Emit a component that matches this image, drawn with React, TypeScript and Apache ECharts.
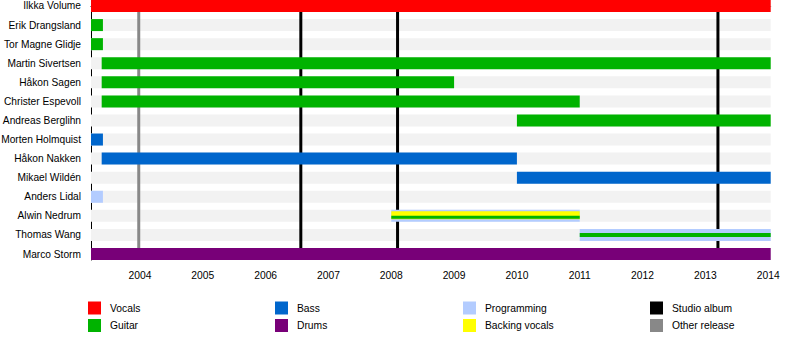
import React, { useEffect, useRef } from "react";
import * as echarts from "echarts";

const START = 2003.22;
const END = 2014.04;

const members = [
  "Ilkka Volume",
  "Erik Drangsland",
  "Tor Magne Glidje",
  "Martin Sivertsen",
  "Håkon Sagen",
  "Christer Espevoll",
  "Andreas Berglihn",
  "Morten Holmquist",
  "Håkon Nakken",
  "Mikael Wildén",
  "Anders Lidal",
  "Alwin Nedrum",
  "Thomas Wang",
  "Marco Storm",
];

const years = [2004, 2005, 2006, 2007, 2008, 2009, 2010, 2011, 2012, 2013, 2014];

// [member, start, end, layer]  (layer 0 = main bar, 1 = inner, 2 = core, 3 = centre stripe)
const vocals: [string, number, number, number][] = [["Ilkka Volume", START, END, 0]];
const guitar: [string, number, number, number][] = [
  ["Erik Drangsland", START, 2003.41, 0],
  ["Tor Magne Glidje", START, 2003.41, 0],
  ["Martin Sivertsen", 2003.39, END, 0],
  ["Håkon Sagen", 2003.39, 2009.0, 0],
  ["Christer Espevoll", 2003.39, 2011.0, 0],
  ["Andreas Berglihn", 2010.0, END, 0],
  ["Alwin Nedrum", 2008.0, 2011.0, 2],
  ["Thomas Wang", 2011.0, END, 3],
];
const bass: [string, number, number, number][] = [
  ["Morten Holmquist", START, 2003.41, 0],
  ["Håkon Nakken", 2003.39, 2010.0, 0],
  ["Mikael Wildén", 2010.0, END, 0],
];
const drums: [string, number, number, number][] = [["Marco Storm", START, END, 0]];
const programming: [string, number, number, number][] = [
  ["Anders Lidal", START, 2003.41, 0],
  ["Alwin Nedrum", 2008.0, 2011.0, 0],
  ["Thomas Wang", 2011.0, END, 0],
];
const backingVocals: [string, number, number, number][] = [["Alwin Nedrum", 2008.0, 2011.0, 1]];

const studioAlbums = [2006.56, 2008.1, 2013.2];
const otherReleases = [2003.98];

const Y_MIN = -0.3145;
const Y_MAX = 13.3145;
const LAYERS = [
  { h: 12, dy: 0 },
  { h: 8, dy: -0.5 },
  { h: 3, dy: 1.5 },
  { h: 4, dy: 0 },
];
const FONT = "'Liberation Sans', Arial, sans-serif";

function barSeries(name: string, color: string, entries: [string, number, number, number][]) {
  return {
    type: "custom",
    name,
    itemStyle: { color },
    z: 3,
    encode: { x: [0, 1], y: 2 },
    data: entries.map(([m, s, e, l]) => [s, e, members.indexOf(m), l]),
    renderItem: (params: any, api: any) => {
      const row = api.value(2);
      const a = api.coord([api.value(0), row]);
      const b = api.coord([api.value(1), row]);
      const L = LAYERS[api.value(3)];
      return {
        type: "rect",
        shape: { x: a[0], y: a[1] - L.h / 2 + L.dy, width: b[0] - a[0], height: L.h },
        style: { fill: color },
        z2: 10 + api.value(3) * 10,
      };
    },
  };
}

function lineSeries(name: string, color: string, values: number[]) {
  return {
    type: "custom",
    name,
    itemStyle: { color },
    z: 2,
    encode: { x: 0, y: 1 },
    data: values.map((v) => [v, 0]),
    renderItem: (params: any, api: any) => {
      const t = api.coord([api.value(0), Y_MIN]);
      const b = api.coord([api.value(0), Y_MAX]);
      return {
        type: "line",
        shape: { x1: t[0], y1: t[1], x2: b[0], y2: b[1] },
        style: { stroke: color, lineWidth: 3 },
      };
    },
  };
}

export default function App() {
  const ref = useRef<HTMLDivElement>(null);
  useEffect(() => {
    if (!ref.current) return;
    const chart = echarts.init(ref.current, null, { renderer: "svg" });
    const legendBase = {
      orient: "vertical",
      top: 301.5,
      itemWidth: 13,
      itemHeight: 13,
      itemGap: 4.5,
      padding: 0,
      icon: "rect",
      selectedMode: false,
      textStyle: { fontSize: 10.3, color: "#000", fontFamily: FONT, padding: [0, 0, 0, 4] },
    };
    chart.setOption({
      animation: false,
      grid: {
        left: 91,
        right: 29.3,
        top: 0,
        bottom: 100,
        containLabel: false,
        outerBoundsMode: "none",
      },
      xAxis: {
        type: "value",
        min: START,
        max: END,
        splitLine: { show: false },
        axisLine: { lineStyle: { color: "#000", width: 1 } },
        axisTick: { customValues: years, length: 5, lineStyle: { color: "#000" } },
        axisLabel: {
          customValues: years,
          fontSize: 10.3,
          color: "#000",
          fontFamily: FONT,
          margin: 10,
          formatter: (v: number) => String(Math.round(v)),
        },
      },
      yAxis: {
        type: "value",
        inverse: true,
        min: Y_MIN,
        max: Y_MAX,
        splitLine: { show: false },
        axisLine: { show: true, lineStyle: { color: "#000", width: 1 } },
        axisTick: { show: false },
        axisLabel: {
          customValues: members.map((_, i) => i),
          formatter: (v: number) => members[Math.round(v)] ?? "",
          fontSize: 10.2,
          color: "#000",
          fontFamily: FONT,
          margin: 10,
        },
      },
      legend: [
        { ...legendBase, left: 88, data: ["Vocals", "Guitar"] },
        { ...legendBase, left: 275, data: ["Bass", "Drums"] },
        { ...legendBase, left: 463, data: ["Programming", "Backing vocals"] },
        { ...legendBase, left: 650, data: ["Studio album", "Other release"] },
      ],
      series: [
        {
          type: "custom",
          name: "stripes",
          z: 1,
          encode: { x: [0, 1], y: 2 },
          data: members.map((_, i) => [START, END, i]),
          renderItem: (params: any, api: any) => {
            const a = api.coord([api.value(0), api.value(2)]);
            const b = api.coord([api.value(1), api.value(2)]);
            return {
              type: "rect",
              shape: { x: a[0], y: a[1] - 6, width: b[0] - a[0], height: 12 },
              style: { fill: "#f2f2f2" },
            };
          },
        },
        barSeries("Vocals", "#ff0000", vocals),
        barSeries("Guitar", "#00b300", guitar),
        barSeries("Bass", "#0066cc", bass),
        barSeries("Drums", "#780078", drums),
        barSeries("Programming", "#b3ccff", programming),
        barSeries("Backing vocals", "#ffff00", backingVocals),
        lineSeries("Studio album", "#000000", studioAlbums),
        lineSeries("Other release", "#888888", otherReleases),
      ],
    });
    return () => chart.dispose();
  }, []);
  return (
    <div
      ref={ref}
      style={{ position: "absolute", left: 0, top: 0, width: 800, height: 360 }}
    />
  );
}
